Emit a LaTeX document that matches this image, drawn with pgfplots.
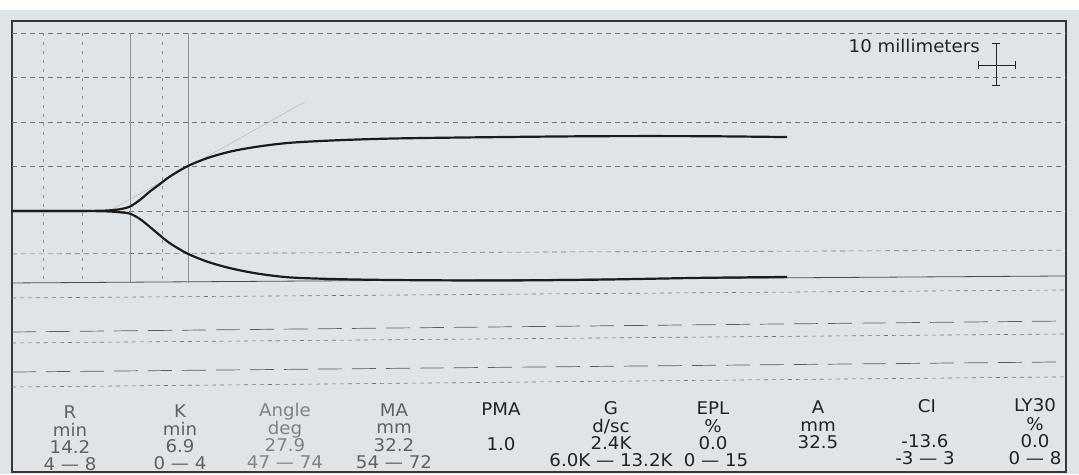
\documentclass[border=0pt]{standalone}
\usepackage{fontspec}
\setmainfont{DejaVu Sans}[FakeStretch=1.04]
\usepackage{pgfplots}
\pgfplotsset{compat=1.18}
\definecolor{paper}{RGB}{222,228,231}
\definecolor{ink}{RGB}{28,28,28}
\definecolor{gridc}{RGB}{112,117,120}
\definecolor{vgrid}{RGB}{140,145,148}
\definecolor{lightink}{RGB}{95,98,100}
\definecolor{angleink}{RGB}{128,131,133}
\definecolor{darkink}{RGB}{35,35,35}
\begin{document}
\begin{tikzpicture}
\fill[white] (-12pt,-2pt) rectangle (1067pt,472pt);
\fill[paper] (-12pt,-2pt) rectangle (1067pt,462pt);
\begin{axis}[
  at={(0pt,0pt)}, anchor=south west,
  scale only axis, width=1054pt, height=451pt,
  xmin=0, xmax=126.99, ymin=-59.32, ymax=43.18,
  xtick=\empty, ytick=\empty,
  axis line style={draw=black!78, line width=1.3pt},
  clip=false,
]
% upper horizontal grid (short dashes)
\draw[gridc, line width=0.6pt, dash pattern=on 5pt off 4pt] (axis cs:0,40.45) -- (axis cs:126.99,40.45);
\draw[gridc, line width=0.6pt, dash pattern=on 5pt off 4pt] (axis cs:0,30.45) -- (axis cs:126.99,30.45);
\draw[gridc, line width=0.6pt, dash pattern=on 5pt off 4pt] (axis cs:0,20.23) -- (axis cs:126.99,20.23);
\draw[gridc, line width=0.6pt, dash pattern=on 5pt off 4pt] (axis cs:0,10.23) -- (axis cs:126.99,10.23);
\draw[gridc, line width=0.6pt, dash pattern=on 5pt off 4pt] (axis cs:0,0) -- (axis cs:126.99,0);
\draw[gridc, line width=0.6pt, dash pattern=on 5pt off 4pt] (axis cs:0,-9.77) -- (axis cs:126.99,-8.9);
% solid line
\draw[black!70, line width=0.8pt] (axis cs:0,-16.36) -- (axis cs:126.99,-14.77);
% lower lines
\draw[gridc, line width=0.6pt, dash pattern=on 4pt off 4pt] (axis cs:0,-19.77) -- (axis cs:126.99,-17.95);
\draw[gridc!80!black, line width=0.7pt, dash pattern=on 24pt off 10pt] (axis cs:0,-27.5) -- (axis cs:126.99,-25.0);
\draw[gridc, line width=0.6pt, dash pattern=on 4pt off 4pt] (axis cs:0,-30.0) -- (axis cs:126.99,-27.95);
\draw[gridc!80!black, line width=0.7pt, dash pattern=on 24pt off 10pt] (axis cs:0,-36.6) -- (axis cs:126.99,-34.3);
\draw[gridc, line width=0.6pt, dash pattern=on 4pt off 4pt] (axis cs:0,-40.0) -- (axis cs:126.99,-37.7);
% vertical markers
\draw[vgrid, line width=0.6pt, dash pattern=on 3pt off 6pt] (axis cs:3.73,40.45) -- (axis cs:3.73,-16.36);
\draw[vgrid, line width=0.6pt, dash pattern=on 3pt off 6pt] (axis cs:8.43,40.45) -- (axis cs:8.43,-16.36);
\draw[vgrid, line width=0.7pt] (axis cs:14.22,40.45) -- (axis cs:14.22,-16.36);
\draw[vgrid, line width=0.6pt, dash pattern=on 3pt off 6pt] (axis cs:18.07,40.45) -- (axis cs:18.07,-16.36);
\draw[vgrid, line width=0.7pt] (axis cs:21.2,40.45) -- (axis cs:21.2,-16.36);
% faint angle tangent
\draw[black!28, line width=0.5pt] (axis cs:11.8,0.1) -- (axis cs:35.3,24.8);
% TEG trace
\addplot[ink, line width=2.2pt, smooth, tension=0.5] coordinates {
(0,0) (5,0) (9,0.02) (10.6,0.05) (11.8,0.15) (13.0,0.4) (14.2,1.0) (15.4,2.5)
(16.6,4.4) (17.8,6.1) (19.0,7.8) (21.05,10.1) (23.5,12.0) (26.3,13.5) (29.5,14.6)
(33.5,15.5) (39.5,16.1) (46.7,16.5) (58.8,16.8) (70.8,17.0) (82.9,17.0) (93.4,16.8)};
\addplot[ink, line width=2.2pt, smooth, tension=0.5] coordinates {
(0,0) (5,0) (9,-0.02) (10.6,-0.05) (11.8,-0.12) (13.0,-0.3) (14.2,-0.6) (15.4,-1.8)
(16.6,-3.6) (17.8,-5.5) (19.0,-7.3) (21.05,-9.6) (23.5,-11.5) (26.3,-13.0) (29.5,-14.2)
(33.5,-15.1) (39.5,-15.5) (46.7,-15.7) (58.8,-15.8) (70.8,-15.6) (82.9,-15.2) (93.4,-15.0)};
% scale cross
\draw[darkink, line width=0.8pt] (axis cs:118.55,38.18) -- (axis cs:118.55,28.64);
\draw[darkink, line width=0.8pt] (axis cs:118.07,38.18) -- (axis cs:119.03,38.18);
\draw[darkink, line width=0.8pt] (axis cs:118.07,28.64) -- (axis cs:119.03,28.64);
\draw[darkink, line width=0.8pt] (axis cs:116.39,33.18) -- (axis cs:120.84,33.18);
\draw[darkink, line width=0.8pt] (axis cs:116.39,32.3) -- (axis cs:116.39,34.06);
\draw[darkink, line width=0.8pt] (axis cs:120.84,32.3) -- (axis cs:120.84,34.06);
\end{axis}
\begin{scope}[every node/.style={anchor=base, inner sep=0pt, font=\fontsize{17.5}{20}\selectfont}]
\node[darkink, anchor=base east] at (968pt,419pt) {10 millimeters};
% R
\node[lightink] at (58pt,54pt) {R};
\node[lightink] at (58pt,36pt) {min};
\node[lightink] at (58pt,19pt) {14.2};
\node[lightink] at (58pt,2pt) {4 — 8};
% K
\node[lightink] at (168pt,54.7pt) {K};
\node[lightink] at (168pt,36.7pt) {min};
\node[lightink] at (168pt,19.7pt) {6.9};
\node[lightink] at (168pt,2.7pt) {0 — 4};
% Angle
\node[angleink] at (273pt,55.3pt) {Angle};
\node[angleink] at (273pt,37.3pt) {deg};
\node[angleink] at (273pt,20.3pt) {27.9};
\node[angleink] at (273pt,3.3pt) {47 — 74};
% MA
\node[lightink] at (382pt,56pt) {MA};
\node[lightink] at (382pt,38pt) {mm};
\node[lightink] at (382pt,21pt) {32.2};
\node[lightink] at (382pt,4pt) {54 — 72};
% PMA
\node[darkink] at (489pt,56.7pt) {PMA};
\node[darkink] at (489pt,21.7pt) {1.0};
% G
\node[darkink] at (599pt,57.4pt) {G};
\node[darkink] at (599pt,39.4pt) {d/sc};
\node[darkink] at (599pt,22.4pt) {2.4K};
\node[darkink] at (599pt,5.4pt) {6.0K — 13.2K};
% EPL
\node[darkink] at (701pt,58pt) {EPL};
\node[darkink] at (701pt,40pt) {\%};
\node[darkink] at (701pt,23pt) {0.0};
\node[darkink] at (704pt,6pt) {0 — 15};
% A
\node[darkink] at (806pt,58.7pt) {A};
\node[darkink] at (806pt,40.7pt) {mm};
\node[darkink] at (806pt,23.7pt) {32.5};
% CI
\node[darkink] at (915pt,59.3pt) {CI};
\node[darkink] at (913pt,24.3pt) {-13.6};
\node[darkink] at (913pt,7.3pt) {-3 — 3};
% LY30
\node[darkink] at (1023pt,60pt) {LY30};
\node[darkink] at (1023pt,42pt) {\%};
\node[darkink] at (1023pt,25pt) {0.0};
\node[darkink] at (1023pt,8pt) {0 — 8};
\end{scope}
\pgfresetboundingbox
\path (-12pt,-2pt) rectangle (1067pt,472pt);
\end{tikzpicture}
\end{document}
